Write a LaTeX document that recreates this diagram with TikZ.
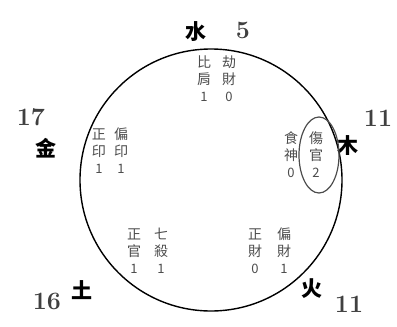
\documentclass[tikz,border=0pt]{standalone}
\usepackage{fontspec}
\newfontfamily\cjk{Noto Sans CJK TC}
\usepackage{tikz}
\usetikzlibrary{positioning,shapes.geometric}
\newcommand{\geshu}[1]{{\fontsize{13}{13}\selectfont #1}}

\begin{document}
\begin{tikzpicture}[x=1pt,y=-1pt,
  xing/.style={font=\cjk\fontsize{21}{21}\selectfont\bfseries,inner sep=0pt},
  shu/.style={font=\fontsize{25}{25}\selectfont\bfseries,text=black!75,inner sep=0pt},
  shen/.style={font=\cjk\fontsize{14}{17}\selectfont,text=black!70,align=center,inner sep=0pt}
]
  \useasboundingbox (0,0) rectangle (397,327);
  \node[circle,draw,line width=1.4pt,minimum size=262pt,inner sep=0pt] (yuan) at (211,180) {};
  % elements and counts
  \node[xing] (shui) at (196,32) {水};
  \node[shu]  (n5)   at (243,30) {5};
  \node[shu]  (n17)  at (31,117) {17};
  \node[xing] (jin)  at (46,148) {金};
  \node[shu]  (n11a) at (378,118) {11};
  \node[xing] (mu)   at (348,146) {木};
  \node[shu]  (n16)  at (47,301) {16};
  \node[xing] (tu)   at (82,290) {土};
  \node[xing] (huo)  at (312,289) {火};
  \node[shu]  (n11b) at (349,304) {11};
  % ten gods
  \node[shen] (bijian)   at (204,79)  {比\\肩\\\geshu{1}};
  \node[shen] (jiecai)   at (229,79)  {劫\\財\\\geshu{0}};
  \node[shen] (zhengyin) at (99,151)  {正\\印\\\geshu{1}};
  \node[shen] (pianyin)  at (121,151) {偏\\印\\\geshu{1}};
  \node[shen] (shishen)  at (291,155) {食\\神\\\geshu{0}};
  \node[shen] (shangguan) at (316,155) {傷\\官\\\geshu{2}};
  \node[shen] (zhengguan) at (134,251) {正\\官\\\geshu{1}};
  \node[shen] (qisha)    at (161,251) {七\\殺\\\geshu{1}};
  \node[shen] (zhengcai) at (255,251) {正\\財\\\geshu{0}};
  \node[shen] (piancai)  at (284,251) {偏\\財\\\geshu{1}};
  \node[draw,ellipse,line width=1.2pt,draw=black!70,minimum width=40pt,minimum height=76pt] (quan) at (319,155) {};
\end{tikzpicture}
\end{document}
